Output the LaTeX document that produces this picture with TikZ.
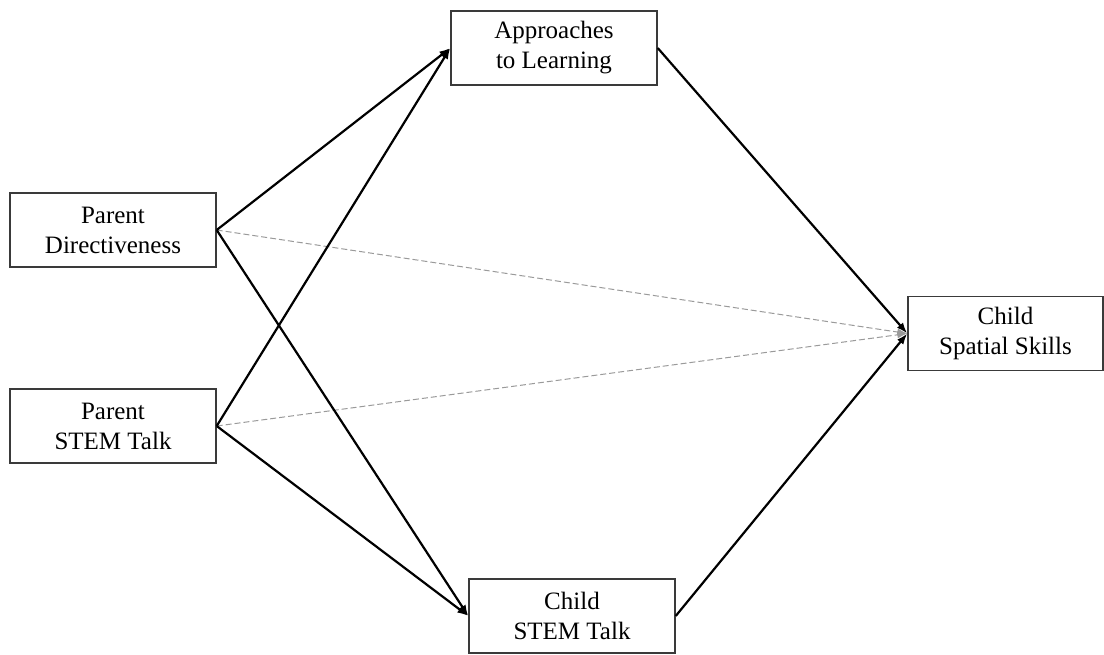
\documentclass[tikz,border=0pt]{standalone}
\usepackage{fontspec}
\setmainfont{Liberation Serif}
\usetikzlibrary{arrows.meta}
\definecolor{boxline}{HTML}{3A3A3A}
\definecolor{dashgray}{HTML}{9A9A9A}
\begin{document}
\begin{tikzpicture}[x=1pt,y=-1pt,
  varbox/.style={draw=boxline, line width=1.4pt, fill=white, minimum height=74pt, inner sep=0pt, align=center, font=\fontsize{25}{30}\selectfont},
  patharrow/.style={line width=2.2pt, draw=black, -{Latex[length=11pt,width=8pt]}},
  nsarrow/.style={line width=1pt, draw=dashgray, dash pattern=on 6pt off 3pt, -{Latex[length=10pt,width=7pt]}}]
\useasboundingbox (0,0) rectangle (1104,654);
\node[varbox, minimum width=206pt] (pd) at (113,230) {Parent\\Directiveness};
\node[varbox, minimum width=206pt] (ps) at (113,426) {Parent\\STEM Talk};
\node[varbox, minimum width=206pt] (al) at (554,48) {Approaches\\to Learning};
\node[varbox, minimum width=206pt] (cs) at (572,616) {Child\\STEM Talk};
\node[varbox, minimum width=195pt] (sp) at (1005.5,333.5) {Child\\Spatial Skills};
\draw[nsarrow] (pd.east) -- (sp.west);
\draw[nsarrow] (ps.east) -- (sp.west);
\draw[patharrow] (pd.east) -- (al.west);
\draw[patharrow] (pd.east) -- (cs.west);
\draw[patharrow] (ps.east) -- (al.west);
\draw[patharrow] (ps.east) -- (cs.west);
\draw[patharrow] (al.east) -- (sp.west);
\draw[patharrow] (cs.east) -- (sp.west);
\end{tikzpicture}
\end{document}
